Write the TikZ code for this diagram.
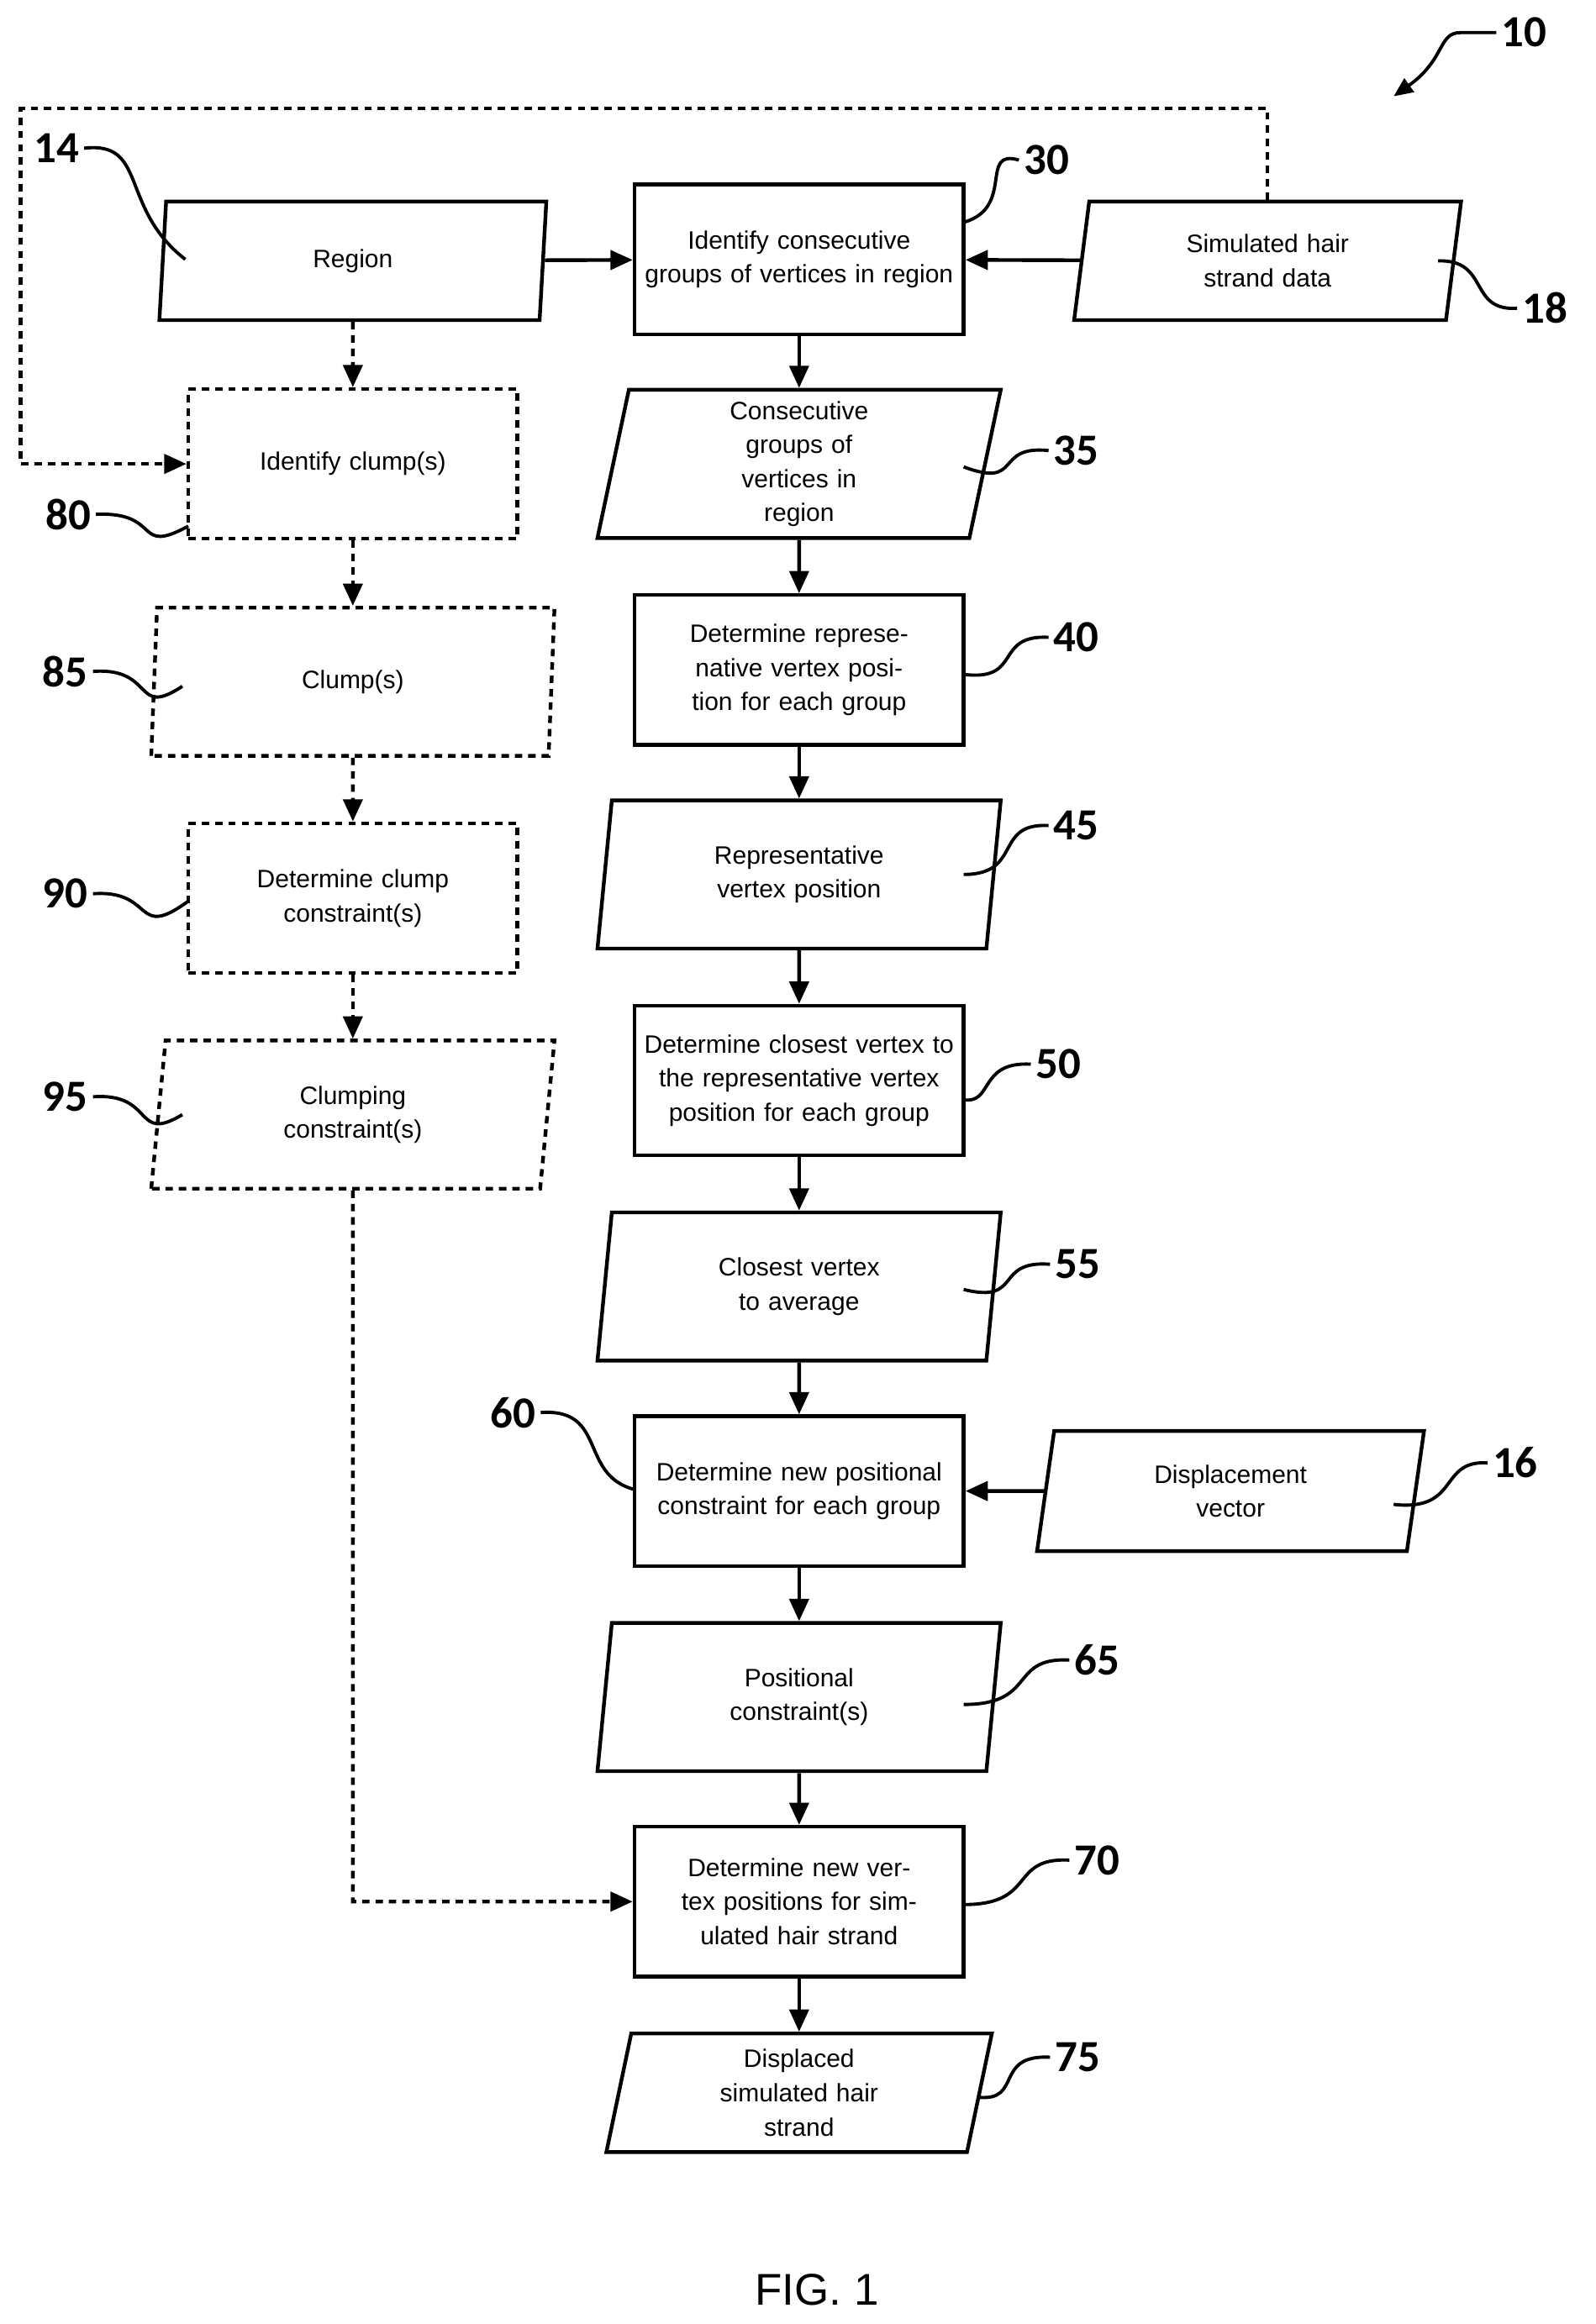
\documentclass[tikz,border=0pt]{standalone}
\usepackage{fontspec}
\setmainfont{Liberation Sans}
\newfontfamily\numf{Carlito}
\usetikzlibrary{shapes.geometric,arrows.meta}
\begin{document}
\begin{tikzpicture}[x=1pt,y=-1pt,
  base/.style={draw,line width=2.5pt,align=center,font=\fontsize{17}{23}\selectfont,inner sep=0pt},
  box/.style={base,rectangle,minimum width=222pt,minimum height=101pt,text width=210pt},
  para/.style={base,trapezium,trapezium left angle=76,trapezium right angle=104,trapezium stretches body=true,minimum width=272pt,minimum height=100pt,text width=150pt},
  dsh/.style={dash pattern=on 5pt off 4pt},
  arr/.style={line width=2.5pt,-{Triangle[length=15pt,width=13pt]}},
  lead/.style={line width=2.2pt},
  num/.style={font=\numf\bfseries\fontsize{30}{30}\selectfont}]
\useasboundingbox (0,0) rectangle (1076,1568);
% main column
\node[para,minimum width=261pt,minimum height=80pt,trapezium left angle=74,trapezium right angle=106] (region) at (238,176) {Region};
\node[box] (n30) at (539,175) {Identify consecutive groups of vertices in region};
\node[para,minimum width=261pt,minimum height=80pt,trapezium left angle=74,trapezium right angle=106] (n18) at (855,176) {Simulated hair\\strand data};
\node[para] (n35) at (539,313) {Consecutive\\groups of\\vertices in\\region};
\node[box] (n40) at (539,452) {Determine represenative vertex position for each group};
\node[para] (n45) at (539,590) {Representative\\vertex position};
\node[box] (n50) at (539,729) {Determine closest vertex to the representative vertex position for each group};
\node[para] (n55) at (539,868) {Closest vertex\\to average};
\node[box] (n60) at (539,1006) {Determine new positional constraint for each group};
\node[para,minimum width=261pt,minimum height=81pt,trapezium left angle=72,trapezium right angle=108] (n16) at (830,1006) {Displacement\\vector};
\node[para] (n65) at (539,1145) {Positional\\constraint(s)};
\node[box] (n70) at (539,1283) {Determine new vertex positions for simulated hair strand};
\node[para,minimum width=260pt,minimum height=80pt,trapezium left angle=74,trapezium right angle=106] (n75) at (539,1412) {Displaced\\simulated hair\\strand};
% left column
\node[box,dsh] (n80) at (238,313) {Identify clump(s)};
\node[para,dsh] (n85) at (238,460) {Clump(s)};
\node[box,dsh] (n90) at (238,606) {Determine clump\\constraint(s)};
\node[para,dsh] (n95) at (238,752) {Clumping\\constraint(s)};
% solid arrows
\draw[arr] (region) -- (n30);
\draw[arr] (n18) -- (n30);
\draw[arr] (n30) -- (n35);
\draw[arr] (n35) -- (n40);
\draw[arr] (n40) -- (n45);
\draw[arr] (n45) -- (n50);
\draw[arr] (n50) -- (n55);
\draw[arr] (n55) -- (n60);
\draw[arr] (n16) -- (n60);
\draw[arr] (n60) -- (n65);
\draw[arr] (n65) -- (n70);
\draw[arr] (n70) -- (n75);
% dashed arrows
\draw[arr,dsh] (region) -- (n80);
\draw[arr,dsh] (n80) -- (n85);
\draw[arr,dsh] (n85) -- (n90);
\draw[arr,dsh] (n90) -- (n95);
\draw[arr,dsh] (n18.north) -- (n18.north |- 0,73) -- (14,73) -- (14,313) -- (n80.west);
\draw[arr,dsh] (n95.south) -- (238,1283) -- (n70.west);
% labels
\node[num] (l10) at (1028,22) {10};
\draw[line width=2.2pt,-{Triangle[length=13pt,width=11pt]}] (l10.west) -- (985,22) .. controls (970,22) and (975,40) .. (940,65);
\node[num] (l14) at (38,100) {14};
\draw[lead] (l14.east) .. controls (100,95) and (80,140) .. (125,175);
\node[num] (l30) at (706,108) {30};
\draw[lead] (l30.west) .. controls (660,100) and (685,140) .. (650,150);
\node[num] (l18) at (1042,208) {18};
\draw[lead] (l18.west) .. controls (990,210) and (1005,175) .. (970,176);
\node[num] (l35) at (726,304) {35};
\draw[lead] (l35.west) .. controls (670,300) and (690,330) .. (650,315);
\node[num] (l40) at (726,430) {40};
\draw[lead] (l40.west) .. controls (670,428) and (690,460) .. (650,455);
\node[num] (l45) at (726,557) {45};
\draw[lead] (l45.west) .. controls (670,555) and (690,590) .. (650,590);
\node[num] (l50) at (714,718) {50};
\draw[lead] (l50.west) .. controls (660,716) and (670,745) .. (650,742);
\node[num] (l55) at (727,853) {55};
\draw[lead] (l55.west) .. controls (670,850) and (690,880) .. (650,870);
\node[num] (l60) at (346,953) {60};
\draw[lead] (l60.east) .. controls (410,950) and (390,995) .. (428,1005);
\node[num] (l16) at (1022,987) {16};
\draw[lead] (l16.west) .. controls (970,985) and (985,1020) .. (940,1015);
\node[num] (l65) at (740,1120) {65};
\draw[lead] (l65.west) .. controls (680,1118) and (700,1150) .. (650,1150);
\node[num] (l70) at (740,1255) {70};
\draw[lead] (l70.west) .. controls (680,1253) and (700,1285) .. (650,1285);
\node[num] (l75) at (727,1388) {75};
\draw[lead] (l75.west) .. controls (670,1386) and (690,1418) .. (660,1415);
\node[num] (l80) at (46,347) {80};
\draw[lead] (l80.east) .. controls (110,345) and (90,375) .. (127,355);
\node[num] (l85) at (44,453) {85};
\draw[lead] (l85.east) .. controls (105,450) and (90,485) .. (123,463);
\node[num] (l90) at (44,603) {90};
\draw[lead] (l90.east) .. controls (105,600) and (90,635) .. (127,608);
\node[num] (l95) at (44,740) {95};
\draw[lead] (l95.east) .. controls (105,737) and (90,772) .. (123,752);
\node[font=\fontsize{30}{30}\selectfont] (fig) at (551,1545) {FIG. 1};
\end{tikzpicture}
\end{document}
